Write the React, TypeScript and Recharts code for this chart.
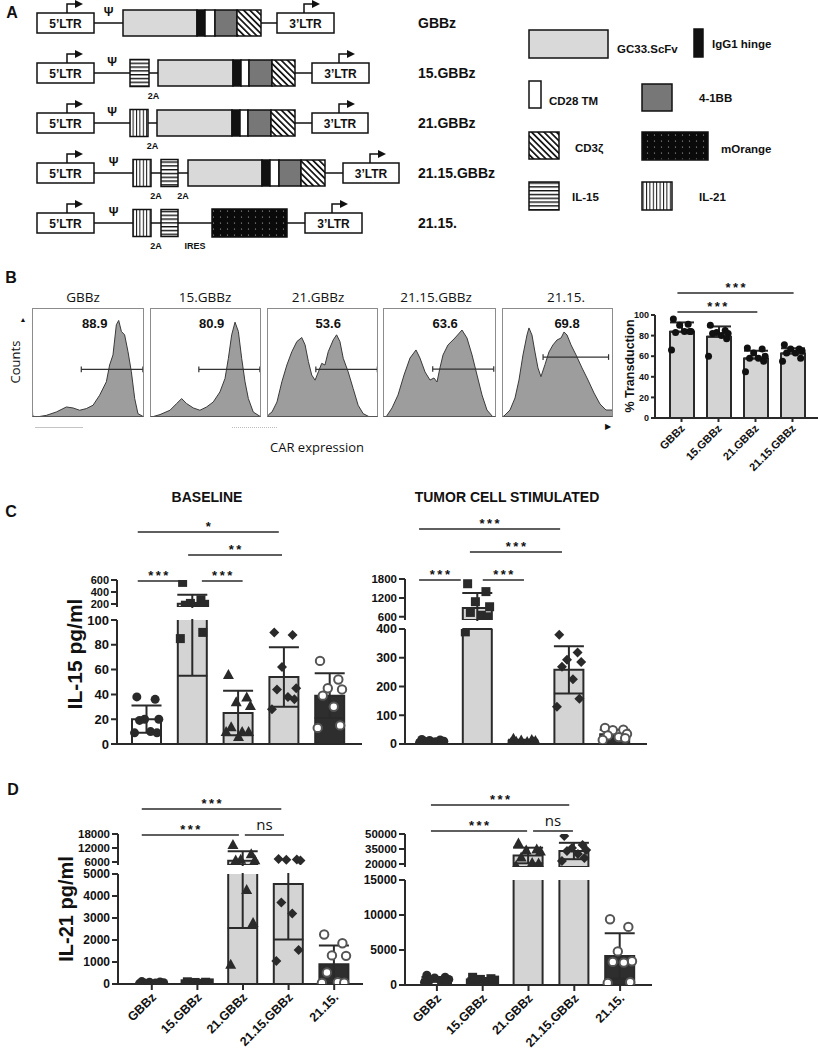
import React from 'react';
import {
  ComposedChart, AreaChart, Area, Bar, XAxis, YAxis, Scatter, ErrorBar, Cell,
  ReferenceLine, ReferenceDot,
} from 'recharts';

const SANS = '"Liberation Sans", Arial, Helvetica, sans-serif';
const CAL = '"Open Sans", "Noto Sans", sans-serif';
const INK = '#2a2a2a';

// ---------------- Panel A : constructs ----------------
const CONSTRUCTS = ['GBBz', '15.GBBz', '21.GBBz', '21.15.GBBz', '21.15.'];
const SEG_TYPES: string[][] = [
  ['gap', 'ltr5', 'psi', 'scfv', 'hinge', 'tm', 'bb', 'cd3z', 'line', 'ltr3'],
  ['gap', 'ltr5', 'psi', 'il15', 'p2a', 'scfv', 'hinge', 'tm', 'bb', 'cd3z', 'line', 'ltr3'],
  ['gap', 'ltr5', 'psi', 'il21', 'p2a', 'scfv', 'hinge', 'tm', 'bb', 'cd3z', 'line', 'ltr3'],
  ['gap', 'ltr5', 'psi', 'il21', 'p2a', 'il15', 'p2a', 'scfv', 'hinge', 'tm', 'bb', 'cd3z', 'line', 'ltr3'],
  ['gap', 'ltr5', 'psi', 'il21', 'p2a', 'il15', 'ires', 'mor', 'line', 'ltr3'],
];
const SEG_LENS: number[][] = [
  [37, 57, 29, 74, 8, 10, 22, 24, 16, 57],
  [37, 57, 36, 19, 9, 75, 8, 8, 23, 23, 17, 57],
  [37, 57, 36, 18, 9, 75, 8, 8, 23, 24, 17, 56],
  [37, 57, 39, 18, 10, 17, 10, 74, 8, 9, 22, 24, 18, 56],
  [37, 57, 39, 18, 10, 17, 34, 75, 18, 57],
];

// ---------------- Panel B : histograms ----------------
const HIST_TITLES = ['GBBz', '15.GBBz', '21.GBBz', '21.15.GBBz', '21.15.'];
const HIST_PCT = ['88.9', '80.9', '53.6', '63.6', '69.8'];
const HIST_GBBZ_X = [0, 0.6, 3.9, 12.8, 21.7, 30.7, 36.6, 42.6, 48.5, 54.5, 60.4, 66.4, 69.3, 72.3, 75.3, 77.4, 79.8, 82.7, 85.7, 88.7, 91.7, 94.6, 100];
const HIST_GBBZ_Y = [22, 1, 0, 1.5, 4.6, 9.2, 8.3, 6.2, 7.7, 10.8, 20, 32.3, 47.7, 56.9, 84.6, 88.6, 78.5, 75.4, 60, 41.5, 16.9, 3.1, 0];
const HIST_15_X = [0, 1.5, 9, 18, 24, 28.5, 33, 39, 45, 51, 57, 63, 67.6, 70.6, 73.6, 76.6, 79.6, 82.6, 85.6, 88.6, 93, 100];
const HIST_15_Y = [0, 0, 2.2, 6.2, 12.3, 16.9, 12.3, 8.3, 6.2, 9.2, 13.8, 23, 35.4, 53.8, 75.4, 87, 78.5, 53.8, 32.3, 16.9, 4.6, 0];
const HIST_21_X = [0, 1.5, 4.5, 9, 13.4, 17.9, 22.4, 26.9, 31.3, 34.3, 37.3, 40.3, 43.3, 46.3, 49.3, 52.2, 55.2, 59.7, 62.7, 65.7, 68.7, 73.1, 77.6, 82.1, 86.6, 92.5, 100];
const HIST_21_Y = [0, 2.2, 4.6, 13.8, 32.3, 47.7, 60, 69.2, 72.9, 66.2, 50.8, 38.5, 33.8, 41.5, 49.2, 47.7, 60, 70.8, 75.4, 69.2, 53.8, 41.5, 26.2, 10.8, 3.1, 0, 0];
const HIST_2115G_X = [0, 2.7, 8, 13.3, 18.6, 23.9, 29.2, 32.7, 37.2, 41.6, 45.1, 47.8, 50.4, 53.1, 57.5, 63.7, 69.9, 74.3, 78.8, 83.2, 87.6, 92, 97.3, 100];
const HIST_2115G_Y = [0, 0, 8.3, 20.2, 38.5, 54.1, 61.5, 54.1, 41.3, 33.9, 35.8, 32.1, 45, 56.9, 66.1, 72.5, 79.8, 72.5, 56.9, 38.5, 20.2, 6.4, 0, 0];
const HIST_2115_X = [0, 1.8, 7.2, 11.7, 15.3, 18.9, 22.5, 24.3, 27, 29.7, 32.4, 35.1, 38.7, 42.3, 45.9, 49.5, 53.2, 55.9, 58.6, 62.2, 66.7, 72.1, 77.5, 82.9, 88.3, 93.7, 99.1, 100];
const HIST_2115_Y = [0, 0.9, 6.4, 17.4, 33.9, 56.9, 75.2, 81.7, 75.2, 59.6, 45, 37, 48, 59.6, 66.1, 70.6, 72.5, 78, 75.2, 66.1, 56.9, 45, 33.9, 22, 11.9, 6.4, 6.4, 5];
const HIST_X = [HIST_GBBZ_X, HIST_15_X, HIST_21_X, HIST_2115G_X, HIST_2115_X];
const HIST_Y = [HIST_GBBZ_Y, HIST_15_Y, HIST_21_Y, HIST_2115G_Y, HIST_2115_Y];
const GATE_LO = [44, 44, 44, 44, 37];
const GATE_HI = [99, 99, 99.4, 98, 96];
const GATE_LEVEL = [43.7, 43.7, 43.7, 44, 55];
const PCT_X = [56, 55.6, 55.2, 55, 58.6];

// ---------------- Panel B : % transduction ----------------
const TRANSD_CATS = ['GBBz', '15.GBBz', '21.GBBz', '21.15.GBBz'];
const TRANSD_MEAN = [83.8, 78.9, 57.8, 62.7];
const TRANSD_SD = [9, 10, 7.5, 5];
const TRANSD_PTS = [
  [96, 91, 90, 84, 83, 84, 84, 66],
  [90, 85, 83, 82, 82, 80, 77, 60],
  [68, 67, 63, 60, 58, 58, 55, 45],
  [71, 67, 67, 65, 63, 63, 58, 55],
];

// ---------------- Panels C / D ----------------
const CATS = ['GBBz', '15.GBBz', '21.GBBz', '21.15.GBBz', '21.15.'];
const FILLS = ['#ffffff', '#d4d4d4', '#d4d4d4', '#d4d4d4', '#2e2e2e'];

const IL15_BASE_MEAN = [20, 205, 25, 54, 39];
const IL15_BASE_SD = [11, 150, 18, 24, 18];
const IL15_BASE_PTS = [
  [38, 36, 20, 20, 19, 10, 9, 9],
  [560, 270, 210, 195, 180, 160, 90, 85],
  [56, 38, 34, 31, 14, 10, 10, 10, 6],
  [90, 88, 62, 45, 44, 38, 36, 28],
  [67, 52, 45, 44, 39, 30, 15, 13],
];
const IL15_STIM_MEAN = [10, 880, 11, 258, 34];
const IL15_STIM_SD = [4, 480, 4, 82, 16];
const IL15_STIM_PTS = [
  [16, 14, 12, 10, 9, 8, 7, 5],
  [1650, 1400, 1080, 920, 740, 650, 600, 390],
  [20, 16, 14, 12, 10, 9, 8, 6],
  [380, 318, 293, 285, 269, 225, 157, 130],
  [56, 50, 48, 35, 30, 24, 20, 14],
];
const IL21_BASE_MEAN = [50, 45, 6570, 4550, 900];
const IL21_BASE_SD = [30, 30, 4030, 2530, 850];
const IL21_BASE_PTS = [
  [110, 90, 80, 60, 50, 40, 30, 20],
  [100, 80, 70, 50, 40, 30, 20, 10],
  [13500, 9500, 7200, 7000, 6800, 4300, 2800, 900],
  [7300, 7100, 6900, 6600, 3700, 3200, 1550, 1050],
  [2250, 1850, 1300, 1280, 520, 80, 60, 50],
];
const IL21_STIM_MEAN = [800, 650, 28500, 33000, 4140];
const IL21_STIM_SD = [350, 300, 7800, 8200, 3250];
const IL21_STIM_PTS = [
  [1400, 1100, 1000, 800, 700, 600, 500, 400],
  [1100, 900, 800, 700, 600, 500, 400, 300],
  [41000, 35000, 34000, 33000, 27000, 21500, 21000, 18500],
  [48000, 39000, 36000, 34000, 33000, 30000, 26000, 23000],
  [9400, 8300, 4800, 3400, 3300, 3200, 400, 300],
];

type Sig = { x1: number; x2: number; y: number; t: string };
const SIG_B: Sig[] = [
  { x1: -0.11, x2: 2.05, y: 102.9, t: '***' },
  { x1: -0.11, x2: 3.03, y: 121.4, t: '***' },
];
const SIG_C_BASE: Sig[] = [
  { x1: -0.2, x2: 0.7, y: 583, t: '***' },
  { x1: 1.2, x2: 2.09, y: 583, t: '***' },
  { x1: 0.9, x2: 2.95, y: 1017, t: '**' },
  { x1: -0.2, x2: 2.88, y: 1400, t: '*' },
];
const SIG_C_STIM: Sig[] = [
  { x1: -0.28, x2: 0.63, y: 1768, t: '***' },
  { x1: 1.11, x2: 2.01, y: 1768, t: '***' },
  { x1: 0.83, x2: 2.84, y: 2656, t: '***' },
  { x1: -0.28, x2: 2.8, y: 3385, t: '***' },
];
const SIG_D_BASE: Sig[] = [
  { x1: -0.22, x2: 2.84, y: 28725, t: '***' },
  { x1: -0.22, x2: 1.91, y: 17571, t: '***' },
  { x1: 2.04, x2: 2.9, y: 17571, t: 'ns' },
];
const SIG_D_STIM: Sig[] = [
  { x1: -0.13, x2: 2.89, y: 79000, t: '***' },
  { x1: -0.13, x2: 1.97, y: 53000, t: '***' },
  { x1: 2.1, x2: 2.97, y: 53000, t: 'ns' },
];

const JIT = [-0.22, 0.18, -0.05, 0.26, -0.16, 0.08, 0.22, -0.27, 0.0];

// ---------------- helpers ----------------
const T = ({ x, y, children, size = 13, bold = false, font = SANS, rot = 0, anchor = 'middle', color = '#111' }: any) => (
  <div
    style={{
      position: 'absolute', left: x, top: y, whiteSpace: 'nowrap', fontFamily: font, fontSize: size,
      fontWeight: bold ? 700 : 400, color, lineHeight: 1,
      transform: `translate(${anchor === 'middle' ? '-50%' : anchor === 'end' ? '-100%' : '0'}, -50%) rotate(${rot}deg)`,
    }}
  >
    {children}
  </div>
);

const SigText = ({ cx, cy, t }: any) =>
  t === 'ns' ? (
    <text x={cx} y={cy - 5} textAnchor="middle" fontFamily={CAL} fontSize={15} fill="#111">ns</text>
  ) : (
    <text x={cx + 1.2} y={cy - 1} textAnchor="middle" fontFamily={SANS} fontWeight={700} fontSize={13} letterSpacing={2.5} fill="#111">{t}</text>
  );

const Marker = (props: any) => {
  const { cx, cy, payload } = props;
  if (cx == null || cy == null || !isFinite(cx) || !isFinite(cy)) return <g />;
  const k = payload.k;
  if (k === 'dot') return <circle cx={cx} cy={cy} r={3.5} fill="#111" />;
  if (k === 0) return <circle cx={cx} cy={cy} r={4.5} fill={INK} />;
  if (k === 1) return <rect x={cx - 4.5} y={cy - 4.5} width={9} height={9} fill={INK} />;
  if (k === 2) return <polygon points={`${cx},${cy - 5.5} ${cx + 5.5},${cy + 4.5} ${cx - 5.5},${cy + 4.5}`} fill={INK} />;
  if (k === 3) return <polygon points={`${cx},${cy - 5} ${cx + 5},${cy} ${cx},${cy + 5} ${cx - 5},${cy}`} fill={INK} />;
  return <circle cx={cx} cy={cy} r={4.2} fill="#fff" stroke="#555" strokeWidth={2} />;
};

const RotTick = (props: any) => {
  const { x, y, payload, fs = 12.5, ox = 5, oy = 8 } = props;
  return (
    <g transform={`translate(${x + ox},${y + oy})`}>
      <text textAnchor="end" transform="rotate(-45)" fontFamily={SANS} fontWeight={700} fontSize={fs} fill="#111">
        {payload.value}
      </text>
    </g>
  );
};

type SegProps = {
  axisX: number; right: number; top: number; bottom: number; padL: number; padR: number;
  domain: [number, number]; ticks: number[]; tickFs: number; yTickSize?: number;
  cats: string[]; means: (number | null)[]; errs: any[]; pts: number[][]; fills: string[];
  barSize: number; errW: number; xMode: 'hide' | 'line' | 'labels'; labelFs?: number;
  xTickSize?: number; lox?: number; loy?: number; tm?: number; sig?: Sig[]; dotKind?: boolean;
  clip?: 'top' | 'bottom';
};

function SegChart(p: SegProps) {
  const YW = 62, RM = 12;
  const TM = p.tm ?? 10;
  const XH = p.xMode === 'hide' ? 0 : p.xMode === 'line' ? 12 : 80;
  const BM = p.xMode === 'hide' ? 8 : 0;
  const width = YW + (p.right - p.axisX) + RM;
  const plotBottom = TM + (p.bottom - p.top);
  const height = plotBottom + XH + BM;
  const data = p.cats.map((c, i) => ({ name: c, mean: p.means[i], err: p.errs[i] }));
  // only the points that fall inside this axis segment are drawn in it
  const pts = p.pts.flatMap((arr, i) =>
    arr
      .map((v, j) => ({ x: i + JIT[j % JIT.length], y: v, k: p.dotKind ? 'dot' : i }))
      .filter((d) => d.y >= p.domain[0] && d.y <= p.domain[1]),
  );
  let clipPath: string | undefined;
  if (p.clip === 'bottom') {
    clipPath = `polygon(0px 0px, ${width}px 0px, ${width}px ${plotBottom + 1}px, ${YW - 1}px ${plotBottom + 1}px, ${YW - 1}px ${height}px, 0px ${height}px)`;
  } else if (p.clip === 'top') {
    clipPath = `polygon(0px 0px, ${YW + 1}px 0px, ${YW + 1}px ${TM - 1}px, ${width}px ${TM - 1}px, ${width}px ${height}px, 0px ${height}px)`;
  }
  return (
    <div style={{ position: 'absolute', left: p.axisX - YW, top: p.top - TM, width, height, clipPath }}>
      <ComposedChart width={width} height={height} data={data} margin={{ top: TM, right: RM, bottom: BM, left: 0 }}>
        <XAxis
          xAxisId="c" dataKey="name" type="category" padding={{ left: p.padL, right: p.padR }}
          hide={p.xMode === 'hide'} height={XH} interval={0}
          axisLine={{ stroke: INK, strokeWidth: 2 }}
          tickLine={p.xMode === 'labels' ? { stroke: INK, strokeWidth: 2 } : false}
          tickSize={p.xMode === 'labels' ? p.xTickSize ?? 6 : 0}
          tick={p.xMode === 'labels' ? <RotTick fs={p.labelFs} ox={p.lox} oy={p.loy} /> : false}
        />
        <XAxis xAxisId="n" type="number" dataKey="x" domain={[-0.5, p.cats.length - 0.5]} padding={{ left: p.padL, right: p.padR }} hide allowDataOverflow />
        <YAxis
          yAxisId="v" type="number" domain={p.domain} ticks={p.ticks} allowDataOverflow width={YW} interval={0}
          axisLine={{ stroke: INK, strokeWidth: 2 }} tickLine={{ stroke: INK, strokeWidth: 2 }}
          tickSize={p.yTickSize ?? 6} tickMargin={2}
          tick={{ fontFamily: SANS, fontWeight: 700, fontSize: p.tickFs, fill: '#111' }}
        />
        <Bar xAxisId="c" yAxisId="v" dataKey="mean" barSize={p.barSize} stroke={INK} strokeWidth={2} isAnimationActive={false}>
          {data.map((d, i) => (
            <Cell key={i} fill={p.fills[i]} />
          ))}
          <ErrorBar dataKey="err" width={p.errW} stroke={INK} strokeWidth={2} direction="y" />
        </Bar>
        <Scatter xAxisId="n" yAxisId="v" data={pts} dataKey="y" shape={Marker} isAnimationActive={false} />
        {(p.sig || []).map((s, i) => (
          <ReferenceLine
            key={'l' + i} xAxisId="n" yAxisId="v" ifOverflow="visible"
            segment={[{ x: s.x1, y: s.y }, { x: s.x2, y: s.y }]} stroke={INK} strokeWidth={1.4}
          />
        ))}
        {(p.sig || []).map((s, i) => (
          <ReferenceDot
            key={'d' + i} xAxisId="n" yAxisId="v" ifOverflow="visible" x={(s.x1 + s.x2) / 2} y={s.y} r={0}
            shape={(q: any) => <SigText cx={q.cx} cy={q.cy} t={s.t} />}
          />
        ))}
      </ComposedChart>
    </div>
  );
}

type Broken = {
  axisX: number; right: number; padL: number; padR: number;
  upD: [number, number]; upT: number[]; upTop: number; upBot: number;
  loD: [number, number]; loT: number[]; loTop: number; loBot: number;
  means: number[]; sds: number[]; pts: number[][]; sig: Sig[]; labels: boolean;
  upFs: number; loFs: number;
};

function BrokenChart({ c }: { c: Broken }) {
  const common = {
    axisX: c.axisX, right: c.right, padL: c.padL, padR: c.padR, cats: CATS,
    pts: c.pts, fills: FILLS, barSize: 29, errW: 15,
  };
  // bars whose mean lies below the upper segment are not drawn in that segment
  const upMeans = c.means.map((m) => (m > c.upD[0] ? m : null));
  const upErrs = c.sds.map((s, i) => (upMeans[i] == null ? null : s));
  return (
    <>
      <SegChart {...common} means={upMeans} errs={upErrs} top={c.upTop} bottom={c.upBot} domain={c.upD} ticks={c.upT} tickFs={c.upFs} xMode="hide" tm={80} sig={c.sig} clip="bottom" />
      <SegChart {...common} means={c.means} errs={c.sds} top={c.loTop} bottom={c.loBot} domain={c.loD} ticks={c.loT} tickFs={c.loFs} xMode={c.labels ? 'labels' : 'line'} labelFs={12.5} xTickSize={6} lox={5} loy={6} clip="top" />
    </>
  );
}

// ---------------- Panel A renderer ----------------
const FILL_OF: Record<string, string> = {
  scfv: '#d9d9d9', hinge: '#111', tm: '#fff', bb: '#777', cd3z: 'url(#pHatch)',
  il15: 'url(#pH)', il21: 'url(#pV)', mor: 'url(#pDots)',
};
const H_OF: Record<string, number> = { scfv: 26, hinge: 26, tm: 26, bb: 26, cd3z: 26, il15: 27, il21: 27, mor: 28 };

function renderSeg(p: any, k: number) {
  const t = p.payload?.types?.[k];
  if (!t || t === 'gap' || !p.width) return <g />;
  const x = p.x, w = p.width, cy = p.y + p.height / 2;
  if (t === 'ltr5' || t === 'ltr3') {
    const ax = x + (t === 'ltr5' ? 30 : 27);
    return (
      <g>
        <rect x={x} y={cy - 10} width={w} height={20} fill="#fff" stroke="#111" strokeWidth={1.5} />
        <text x={x + w / 2} y={cy + 4.5} textAnchor="middle" fontFamily={SANS} fontWeight={700} fontSize={12} fill="#111">
          {t === 'ltr5' ? '5’LTR' : '3’LTR'}
        </text>
        <path d={`M${ax},${cy - 10} V${cy - 19} H${ax + 9}`} fill="none" stroke="#111" strokeWidth={1.5} />
        <polygon points={`${ax + 8},${cy - 23} ${ax + 16},${cy - 19} ${ax + 8},${cy - 15}`} fill="#111" />
      </g>
    );
  }
  if (t === 'line' || t === 'psi' || t === 'p2a' || t === 'ires') {
    return (
      <g>
        <line x1={x} x2={x + w} y1={cy} y2={cy} stroke="#111" strokeWidth={1.5} />
        {t === 'psi' && (
          <text x={x + w / 2} y={cy - 7} textAnchor="middle" fontFamily={SANS} fontWeight={700} fontSize={12} fill="#111">Ψ</text>
        )}
        {(t === 'p2a' || t === 'ires') && (
          <text x={x + w / 2} y={cy + 26} textAnchor="middle" fontFamily={SANS} fontWeight={700} fontSize={9} fill="#111">
            {t === 'p2a' ? '2A' : 'IRES'}
          </text>
        )}
      </g>
    );
  }
  const h = H_OF[t] ?? 26;
  return <rect x={x} y={cy - h / 2} width={w} height={h} fill={FILL_OF[t]} stroke="#111" strokeWidth={1.5} />;
}

function Constructs() {
  const rows = CONSTRUCTS.map((name, r) => {
    const o: any = { name, types: SEG_TYPES[r] };
    SEG_LENS[r].forEach((l, k) => (o['s' + k] = l));
    return o;
  });
  const maxSeg = Math.max(...SEG_LENS.map((s) => s.length));
  return (
    <div style={{ position: 'absolute', left: 0, top: -2 }}>
      <ComposedChart layout="vertical" width={560} height={264} data={rows} margin={{ top: 0, right: 0, bottom: 14, left: 0 }}>
        <XAxis type="number" domain={[0, 410]} hide allowDataOverflow />
        <YAxis
          type="category" dataKey="name" orientation="right" width={150} axisLine={false} tickLine={false}
          tickSize={0} tickMargin={8} interval={0}
          tick={{ fontFamily: SANS, fontWeight: 700, fontSize: 14, fill: '#111' }}
        />
        {Array.from({ length: maxSeg }, (_, k) => (
          <Bar key={k} dataKey={'s' + k} stackId="a" barSize={20} isAnimationActive={false} shape={(p: any) => renderSeg(p, k)} />
        ))}
      </ComposedChart>
    </div>
  );
}

const Legend = () => (
  <svg width={818} height={230} style={{ position: 'absolute', left: 0, top: 0 }}>
    <defs>
      <pattern id="pHatch" patternUnits="userSpaceOnUse" width={4.4} height={4.4} patternTransform="rotate(-45)">
        <rect width={4.4} height={4.4} fill="#fff" />
        <rect width={1.7} height={4.4} fill="#111" />
      </pattern>
      <pattern id="pH" patternUnits="userSpaceOnUse" width={4} height={3.8}>
        <rect width={4} height={3.8} fill="#fff" />
        <rect width={4} height={1.4} fill="#111" />
      </pattern>
      <pattern id="pV" patternUnits="userSpaceOnUse" width={3.4} height={4}>
        <rect width={3.4} height={4} fill="#fff" />
        <rect width={1} height={4} fill="#111" />
      </pattern>
      <pattern id="pDots" patternUnits="userSpaceOnUse" width={7} height={6}>
        <rect width={7} height={6} fill="#0a0a0a" />
        <circle cx={3.5} cy={3} r={0.6} fill="#bbb" />
      </pattern>
    </defs>
    <g stroke="#111" strokeWidth={1.5}>
      <rect x={529} y={30} width={79} height={28} fill="#d9d9d9" />
      <rect x={694} y={29} width={9} height={28} fill="#111" />
      <rect x={529} y={81} width={12} height={27} fill="#fff" />
      <rect x={642} y={84} width={30} height={27} fill="#777" />
      <rect x={529} y={132} width={30} height={27} fill="url(#pHatch)" />
      <rect x={642} y={132} width={66} height={28} fill="url(#pDots)" />
      <rect x={529} y={182} width={30} height={28} fill="url(#pH)" />
      <rect x={642} y={182} width={30} height={28} fill="url(#pV)" />
    </g>
    <g fontFamily={SANS} fontWeight={700} fontSize={11.5} fill="#111">
      <text x={617} y={53}>GC33.ScFv</text>
      <text x={712} y={48}>IgG1 hinge</text>
      <text x={549} y={105}>CD28 TM</text>
      <text x={699} y={102}>4-1BB</text>
      <text x={575} y={152}>CD3ζ</text>
      <text x={721} y={153}>mOrange</text>
      <text x={572} y={201}>IL-15</text>
      <text x={699} y={201}>IL-21</text>
    </g>
  </svg>
);

// ---------------- Panel B histograms ----------------
const HIST_BOX_LEFT = [32, 150, 267, 383, 502];
const HIST_BOX_W = [112, 111, 111, 113, 111];
const HIST_TITLE_X = [83, 205, 318, 436, 566];

function Histogram({ i }: { i: number }) {
  const data = HIST_X[i].map((x, j) => ({ x, y: HIST_Y[i][j] }));
  const w = HIST_BOX_W[i], h = 109;
  const gy = GATE_LEVEL[i];
  return (
    <div style={{ position: 'absolute', left: HIST_BOX_LEFT[i], top: 308, width: w, height: h }}>
      <AreaChart width={w} height={h} data={data} margin={{ top: 0, right: 0, bottom: 0, left: 0 }}>
        <XAxis type="number" dataKey="x" domain={[0, 100]} hide />
        <YAxis type="number" domain={[0, 100]} hide />
        <Area type="linear" dataKey="y" stroke="#3a3a3a" strokeWidth={1} fill="#9d9d9d" fillOpacity={1} isAnimationActive={false} dot={false} activeDot={false} />
        <ReferenceLine segment={[{ x: GATE_LO[i], y: gy }, { x: GATE_HI[i], y: gy }]} stroke="#333" strokeWidth={1.2} />
        <ReferenceLine segment={[{ x: GATE_LO[i], y: gy - 2.6 }, { x: GATE_LO[i], y: gy + 2.6 }]} stroke="#333" strokeWidth={1.2} />
        <ReferenceLine segment={[{ x: GATE_HI[i], y: gy - 2.6 }, { x: GATE_HI[i], y: gy + 2.6 }]} stroke="#333" strokeWidth={1.2} />
        <ReferenceDot
          x={PCT_X[i]} y={86} r={0}
          shape={(q: any) => (
            <text x={q.cx} y={q.cy + 5} textAnchor="middle" fontFamily={SANS} fontWeight={700} fontSize={13} fill="#111">{HIST_PCT[i]}</text>
          )}
        />
      </AreaChart>
      <div style={{ position: 'absolute', left: 0, top: 0, width: w, height: h, border: '1px solid #8c8c8c', borderBottomColor: '#555', boxSizing: 'border-box', pointerEvents: 'none' }} />
    </div>
  );
}

// ---------------- Configs ----------------
const C_BASE: Broken = {
  axisX: 117, right: 362, padL: 7, padR: 9,
  upD: [150, 600], upT: [200, 400, 600], upTop: 580, upBot: 607,
  loD: [0, 100], loT: [0, 20, 40, 60, 80, 100], loTop: 620, loBot: 744,
  means: IL15_BASE_MEAN, sds: IL15_BASE_SD, pts: IL15_BASE_PTS, sig: SIG_C_BASE, labels: false, upFs: 11, loFs: 13,
};
const C_STIM: Broken = {
  axisX: 405, right: 647, padL: 4, padR: 9,
  upD: [500, 1800], upT: [600, 1200, 1800], upTop: 579, upBot: 620,
  loD: [0, 400], loT: [0, 100, 200, 300, 400], loTop: 629, loBot: 744,
  means: IL15_STIM_MEAN, sds: IL15_STIM_SD, pts: IL15_STIM_PTS, sig: SIG_C_STIM, labels: false, upFs: 11.5, loFs: 12.5,
};
const D_BASE: Broken = {
  axisX: 118, right: 363, padL: 11, padR: 6,
  upD: [4700, 18000], upT: [6000, 12000, 18000], upTop: 834, upBot: 865,
  loD: [0, 5000], loT: [0, 1000, 2000, 3000, 4000, 5000], loTop: 874, loBot: 984,
  means: IL21_BASE_MEAN, sds: IL21_BASE_SD, pts: IL21_BASE_PTS, sig: SIG_D_BASE, labels: true, upFs: 11.5, loFs: 12,
};
const D_STIM: Broken = {
  axisX: 405, right: 652, padL: 9, padR: 9,
  upD: [17000, 50000], upT: [20000, 35000, 50000], upTop: 834, upBot: 867,
  loD: [0, 15000], loT: [0, 5000, 10000, 15000], loTop: 880, loBot: 985,
  means: IL21_STIM_MEAN, sds: IL21_STIM_SD, pts: IL21_STIM_PTS, sig: SIG_D_STIM, labels: true, upFs: 11.5, loFs: 12,
};

export default function App() {
  return (
    <div style={{ position: 'absolute', left: 0, top: 0, width: 818, height: 1050, background: '#fff', overflow: 'hidden', fontFamily: SANS }}>
      {/* Panel A */}
      <Legend />
      <Constructs />
      <T x={12} y={13} size={16} bold>A</T>

      {/* Panel B */}
      <T x={11} y={278} size={16} bold>B</T>
      {HIST_TITLES.map((t, i) => (
        <T key={t} x={HIST_TITLE_X[i]} y={298} size={13.5} font={CAL}>{t}</T>
      ))}
      {HIST_TITLES.map((t, i) => (
        <Histogram key={'h' + t} i={i} />
      ))}
      <T x={15} y={362} size={13} font={CAL} rot={-90}>Counts</T>
      <T x={23} y={319} size={7}>▲</T>
      <T x={608} y={427} size={8}>▶</T>
      <div style={{ position: 'absolute', left: 35, top: 427, width: 48, height: 1, background: '#c4c4c4' }} />
      <div style={{ position: 'absolute', left: 232, top: 427, width: 45, height: 0, borderTop: '1px dotted #bdbdbd' }} />
      <T x={317} y={447} size={13} font={CAL}>CAR expression</T>

      <SegChart
        axisX={655} right={818} top={315} bottom={418} padL={8} padR={7}
        domain={[0, 100]} ticks={[0, 20, 40, 60, 80, 100]} tickFs={9} yTickSize={4}
        cats={TRANSD_CATS} means={TRANSD_MEAN} errs={TRANSD_SD.map((s) => [0, s])} pts={TRANSD_PTS}
        fills={['#d4d4d4', '#d4d4d4', '#d4d4d4', '#d4d4d4']} barSize={24} errW={12}
        xMode="labels" labelFs={11} xTickSize={4} lox={4} loy={5} tm={50} sig={SIG_B} dotKind
      />
      <T x={630} y={366} size={12.5} bold rot={-90}>% Transduction</T>

      {/* Panel C */}
      <T x={11} y={512} size={16} bold>C</T>
      <T x={207} y={497} size={14} bold>BASELINE</T>
      <T x={507} y={497} size={14} bold>TUMOR CELL STIMULATED</T>
      <BrokenChart c={C_BASE} />
      <BrokenChart c={C_STIM} />
      <T x={74} y={654} size={21} bold rot={-90}>IL-15 pg/ml</T>

      {/* Panel D */}
      <T x={13} y={790} size={16} bold>D</T>
      <BrokenChart c={D_BASE} />
      <BrokenChart c={D_STIM} />
      <T x={66} y={909} size={20} bold rot={-90}>IL-21 pg/ml</T>
    </div>
  );
}
